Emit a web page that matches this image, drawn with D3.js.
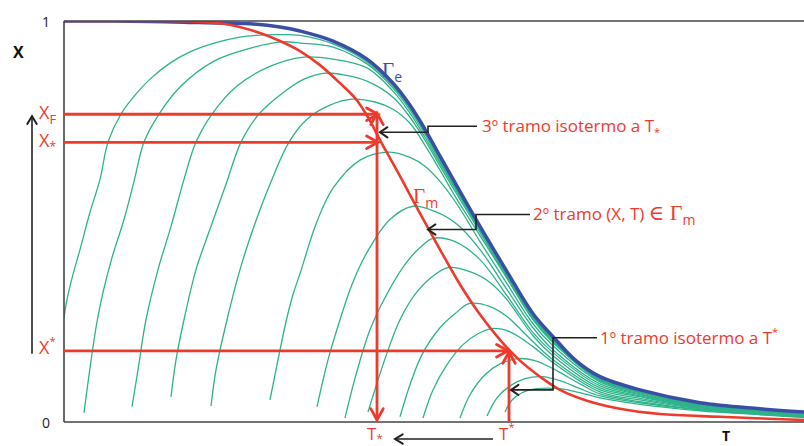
<!DOCTYPE html>
<html><head><meta charset="utf-8">
<script src="https://cdn.jsdelivr.net/npm/d3@7"></script>
<style>body{margin:0;background:#fff;} svg{display:block;}</style>
</head><body><svg id="c" width="804" height="446"></svg>
<script>
// ---- data (T in arbitrary units, X conversion 0..1) ----
const gammaE = [[0,1],[8.6,0.999],[13.6,0.996],[18.6,0.993],[21.6,0.985],[23.6,0.975],[26.9,0.95],[30.3,0.905],[32.9,0.845],[34.6,0.79],[36.1,0.73],[37.6,0.663],[39.3,0.588],[41.6,0.488],[44.3,0.375],[46.9,0.27],[48.9,0.213],[51.1,0.155],[53.6,0.113],[57.6,0.08],[63.6,0.048],[69.6,0.033],[74,0.025]];
const gammaM = [[0,1],[8.6,1],[13.6,0.998],[16.7,0.99],[19.6,0.97],[21.6,0.95],[23.6,0.925],[25.6,0.89],[27.6,0.845],[29.1,0.808],[30.4,0.76],[31.6,0.703],[32.6,0.658],[33.6,0.613],[35.6,0.52],[37.6,0.43],[39.6,0.343],[41.6,0.268],[43.6,0.205],[45.6,0.153],[47.6,0.113],[49.6,0.08],[52.3,0.053],[55.6,0.033],[59.6,0.02],[65.6,0.013],[74,0.005]];
const curveA = [[0,0.26],[0.3,0.305],[0.9,0.368],[1.6,0.43],[2.6,0.523],[3.6,0.605],[4.4,0.698],[5.7,0.768],[7.1,0.815],[8.6,0.855],[10.6,0.895],[12.6,0.923],[15.0,0.945],[17.6,0.96],[19.6,0.965],[21.6,0.966],[23.6,0.964],[26.9,0.943],[30.3,0.898],[32.9,0.838],[34.6,0.783],[36.1,0.723],[37.6,0.655],[41.6,0.483],[46.9,0.265],[48.9,0.208],[53.6,0.11],[57.6,0.078],[63.6,0.045],[69.6,0.03],[74,0.023]];
const curveB = [[2.0,0.023],[2.6,0.135],[3.3,0.25],[3.9,0.323],[4.8,0.41],[6.0,0.505],[7.0,0.6],[8.0,0.698],[9.5,0.768],[11.7,0.838],[15.0,0.9],[18.3,0.93],[21.8,0.948],[23.6,0.945],[26.9,0.935],[30.3,0.893],[32.9,0.833],[34.6,0.778],[36.1,0.718],[37.6,0.65],[41.6,0.48],[46.9,0.263],[48.9,0.205],[53.6,0.108],[57.6,0.076],[63.6,0.044],[69.6,0.029],[74,0.022]];
const curveC = [[6.8,0.038],[7.4,0.13],[8.2,0.255],[9.4,0.38],[10.7,0.488],[12.0,0.605],[13.2,0.698],[14.8,0.768],[17.3,0.838],[20.7,0.888],[24.0,0.91],[26.9,0.905],[30.3,0.883],[32.9,0.825],[34.6,0.77],[36.1,0.71],[37.6,0.645],[41.6,0.478],[46.9,0.26],[48.9,0.203],[53.6,0.106],[57.6,0.075],[63.6,0.043],[69.6,0.028],[74,0.021]];
const curveD = [[10.7,0.063],[11.2,0.155],[12.0,0.255],[13.2,0.38],[14.7,0.488],[16.2,0.593],[17.7,0.698],[19.5,0.768],[22.0,0.823],[24.0,0.855],[26.1,0.87],[28.1,0.865],[30.3,0.85],[32.9,0.81],[34.6,0.76],[36.1,0.703],[37.6,0.638],[41.6,0.473],[46.9,0.258],[48.9,0.2],[53.6,0.105],[57.6,0.074],[63.6,0.042],[69.6,0.027],[74,0.02]];
const curveE = [[14.7,0.04],[15.2,0.13],[16.3,0.255],[17.6,0.38],[19.0,0.488],[20.6,0.593],[22.5,0.698],[24.3,0.755],[26.6,0.79],[28.8,0.805],[31.1,0.798],[32.9,0.78],[34.6,0.745],[36.1,0.69],[37.6,0.628],[39.3,0.555],[41.6,0.465],[44.3,0.358],[46.9,0.255],[48.9,0.198],[53.6,0.103],[57.6,0.073],[63.6,0.041],[69.6,0.026],[74,0.02]];
const curveF = [[20.6,0.055],[21.4,0.155],[22.2,0.25],[22.9,0.318],[23.6,0.37],[25.3,0.5],[26.9,0.583],[29.6,0.653],[32.4,0.673],[34.6,0.66],[36.1,0.638],[37.6,0.6],[39.3,0.543],[41.6,0.45],[44.3,0.345],[46.9,0.245],[48.9,0.19],[53.6,0.1],[57.6,0.07],[63.6,0.04],[69.6,0.026],[74,0.02]];
const curveG = [[25.3,0.038],[26.4,0.155],[27.6,0.255],[28.8,0.343],[30.3,0.423],[32.6,0.505],[34.9,0.538],[37.1,0.525],[39.3,0.493],[41.6,0.43],[44.3,0.33],[46.9,0.235],[48.9,0.18],[53.6,0.095],[57.6,0.068],[63.6,0.039],[69.6,0.025],[74,0.019]];
const curveH = [[28.1,0.01],[29.2,0.118],[30.6,0.23],[32.1,0.31],[34.1,0.393],[35.6,0.435],[36.9,0.458],[39.1,0.45],[41.6,0.405],[44.3,0.315],[46.9,0.223],[48.9,0.173],[53.6,0.09],[57.6,0.065],[63.6,0.038],[69.6,0.024],[74,0.018]];
const curveI = [[30.4,0.025],[31.4,0.105],[32.6,0.193],[33.6,0.255],[35.1,0.318],[36.6,0.358],[38.4,0.385],[40.6,0.375],[42.6,0.348],[44.3,0.305],[46.9,0.215],[48.9,0.165],[53.6,0.085],[57.6,0.063],[63.6,0.036],[69.6,0.024],[74,0.018]];
const curveJ = [[33.6,0.013],[34.6,0.093],[35.8,0.168],[37.6,0.235],[39.1,0.27],[40.5,0.295],[42.6,0.288],[44.3,0.263],[46.9,0.2],[48.9,0.155],[53.6,0.08],[57.6,0.059],[63.6,0.035],[69.6,0.023],[74,0.016]];
const curveK = [[35.9,0.01],[36.9,0.08],[38.3,0.143],[39.9,0.193],[41.4,0.22],[42.8,0.233],[44.6,0.225],[46.9,0.188],[48.9,0.148],[53.6,0.075],[57.6,0.055],[63.6,0.033],[69.6,0.021],[74,0.015]];
const curveL = [[39.6,0.01],[40.6,0.068],[42.1,0.118],[43.6,0.145],[45.4,0.158],[47.1,0.153],[48.9,0.133],[51.6,0.095],[53.6,0.07],[57.6,0.051],[63.6,0.031],[69.6,0.02],[74,0.014]];
const curveM = [[42.3,0.015],[43.3,0.06],[44.6,0.09],[46.1,0.108],[47.8,0.113],[49.6,0.103],[51.6,0.083],[53.6,0.065],[57.6,0.048],[63.6,0.03],[69.6,0.019],[74,0.013]];
const curveN = [[44.1,0.025],[44.8,0.055],[45.8,0.073],[47.3,0.083],[49.6,0.083],[51.6,0.073],[53.6,0.06],[57.6,0.044],[63.6,0.028],[69.6,0.018],[74,0.011]];
const isoRateCurves = [curveA,curveB,curveC,curveD,curveE,curveF,curveG,curveH,curveI,curveJ,curveK,curveL,curveM,curveN];

// key operating points
const tStarLow = 31.3;   // T_*
const tStarUp  = 44.5;   // T^*
const xF = 0.7675;       // X_F
const xStarLow = 0.6975; // X_*
const xStarUp  = 0.1775; // X^*
const yTicks = [0, 1];

// callouts: leader path in data coords
const callout3 = [[41.3,0.7375],[36.4,0.7375],[36.4,0.7225],[31.6,0.7225]];
const callout2 = [[46.6,0.5175],[41.2,0.5175],[41.2,0.48],[36.4,0.48]];
const callout1 = [[53.3,0.21],[48.9,0.21],[48.9,0.08],[44.7,0.08]];

// ---- drawing ----
const svg = d3.select('#c');
const x = d3.scaleLinear().domain([0,74]).range([64,804]);
const y = d3.scaleLinear().domain([0,1]).range([422,21]);
const RED = '#ee3a2c', GREEN = '#2db38a', BLUE = '#3b4ea6', BLACK = '#222';
const SANS = '"Open Sans", "Noto Sans", sans-serif';
const SERIF = '"Liberation Serif", "DejaVu Serif", serif';

svg.append('defs').append('clipPath').attr('id','plot')
  .append('rect').attr('x',x(0)).attr('y',y(1)).attr('width',x(74)-x(0)).attr('height',y(0)-y(1));

const line = d3.line().x(d=>x(d[0])).y(d=>y(d[1])).curve(d3.curveCatmullRom.alpha(0.5));
const plot = svg.append('g').attr('clip-path','url(#plot)');

plot.selectAll('path.iso').data(isoRateCurves).join('path').attr('class','iso')
  .attr('d', line).attr('fill','none').attr('stroke',GREEN).attr('stroke-width',1.3);
plot.append('path').attr('d', line(gammaE)).attr('fill','none').attr('stroke',BLUE).attr('stroke-width',3.5);
plot.append('path').attr('d', line(gammaM)).attr('fill','none').attr('stroke',RED).attr('stroke-width',2.6);

// frame
const frame = svg.append('g').attr('stroke','#444').attr('stroke-width',1.6);
frame.append('line').attr('x1',x(0)).attr('x2',x(0)).attr('y1',y(1)).attr('y2',y(0));
frame.append('line').attr('x1',x(0)).attr('x2',x(74)).attr('y1',y(1)).attr('y2',y(1));
frame.append('line').attr('x1',x(0)).attr('x2',x(74)).attr('y1',y(0)).attr('y2',y(0));

svg.selectAll('text.tick').data(yTicks).join('text').attr('class','tick')
  .attr('x', x(0)-14).attr('y', d=>y(d)+6).attr('text-anchor','end')
  .attr('font-family',SANS).attr('font-size',14).attr('fill','#222').text(d=>d);

function chevron(g, px, py, ang, len, half, color, w){
  const a1 = ang + Math.PI - half, a2 = ang + Math.PI + half;
  g.append('path').attr('d',`M${px+len*Math.cos(a1)},${py+len*Math.sin(a1)}L${px},${py}L${px+len*Math.cos(a2)},${py+len*Math.sin(a2)}`)
    .attr('fill','none').attr('stroke',color).attr('stroke-width',w).attr('stroke-linecap','round');
}
function seg(g, x1,y1,x2,y2,color,w){
  g.append('line').attr('x1',x1).attr('y1',y1).attr('x2',x2).attr('y2',y2).attr('stroke',color).attr('stroke-width',w);
}

// red path arrows
const ra = svg.append('g');
const RW = 2.8, RL = 13, RH = 0.5;
seg(ra, x(0), y(xF), x(tStarLow)+1, y(xF), RED, RW);
chevron(ra, x(tStarLow)+1, y(xF), 0, RL, RH, RED, RW);
seg(ra, x(0), y(xStarLow), x(tStarLow)+1, y(xStarLow), RED, RW);
chevron(ra, x(tStarLow)+1, y(xStarLow), 0, RL, RH, RED, RW);
seg(ra, x(0), y(xStarUp), x(tStarUp)-1, y(xStarUp), RED, RW);
chevron(ra, x(tStarUp)-1, y(xStarUp), 0, RL, RH, RED, RW);
seg(ra, x(tStarLow), y(xF)-1, x(tStarLow), y(0)-2, RED, RW);
chevron(ra, x(tStarLow), y(xF)-1, -Math.PI/2, RL, RH, RED, RW);
chevron(ra, x(tStarLow), y(0)-2, Math.PI/2, RL, RH, RED, RW);
seg(ra, x(tStarUp), y(0), x(tStarUp), y(xStarUp)+1, RED, RW);
chevron(ra, x(tStarUp), y(xStarUp)+1, -Math.PI/2, RL, RH, RED, RW);

// black arrows
const ba = svg.append('g');
const BW = 1.6;
const leader = d3.line().x(d=>x(d[0])).y(d=>y(d[1]));
[callout3, callout2, callout1].forEach(c=>{
  ba.append('path').attr('d', leader(c)).attr('fill','none').attr('stroke',BLACK).attr('stroke-width',BW);
  const e = c[c.length-1];
  chevron(ba, x(e[0]), y(e[1]), Math.PI, 9, 0.6, BLACK, 2);
});
seg(ba, 32, y(xStarUp)+3, 32, y(xF)+2, BLACK, BW);
chevron(ba, 32, y(xF)+2, -Math.PI/2, 9, 0.55, BLACK, 2);
seg(ba, x(tStarUp)-16, 439, x(tStarLow)+18, 439, BLACK, BW);
chevron(ba, x(tStarLow)+18, 439, Math.PI, 9, 0.55, BLACK, 2);

// texts
function label(px, py, parts, color, anchor){
  const t = svg.append('text').attr('x',px).attr('y',py).attr('fill',color).attr('font-family',SANS)
    .attr('text-anchor',anchor||'start');
  parts.forEach(p=>{
    const s = t.append('tspan').text(p.t).attr('font-size',p.s||17);
    if(p.f) s.attr('font-family',p.f);
    if(p.dy) s.attr('dy',p.dy);
    if(p.w) s.attr('font-weight',p.w);
  });
  return t;
}
label(13, 58, [{t:'X', s:16, w:'bold'}], '#111');
label(722, 441, [{t:'T', s:14, w:'bold'}], '#111');

label(39, y(xF)+5, [{t:'X', s:18},{t:'F', s:13, dy:5}], RED);
label(39, y(xStarLow)+5, [{t:'X', s:18},{t:'*', s:12, dy:4}], RED);
label(39, y(xStarUp)+3, [{t:'X', s:18},{t:'*', s:11, dy:-9}], RED);

label(x(tStarLow)-10, 440, [{t:'T', s:17},{t:'*', s:11, dy:2}], RED);
label(x(tStarUp)-10, 440, [{t:'T', s:17},{t:'*', s:11, dy:-9}], RED);

label(382, 77, [{t:'Γ', s:21, f:SERIF},{t:'e', s:14, dy:5}], BLUE);
label(413, 203, [{t:'Γ', s:21, f:SERIF},{t:'m', s:14, dy:5}], RED);

label(x(callout3[0][0])+5, y(callout3[0][1])+6, [{t:'3º tramo isotermo a T', s:17},{t:'*', s:11, dy:4}], RED);
label(x(callout2[0][0])+3, y(callout2[0][1])+6, [{t:'2º tramo (X, T) ', s:17},{t:'∈', s:21, f:SERIF},{t:' Γ', s:22, f:SERIF},{t:'m', s:14, dy:5}], RED);
label(x(callout1[0][0])+3, y(callout1[0][1])+6, [{t:'1º tramo isotermo a T', s:17},{t:'*', s:11, dy:-8}], RED);
</script></body></html>
